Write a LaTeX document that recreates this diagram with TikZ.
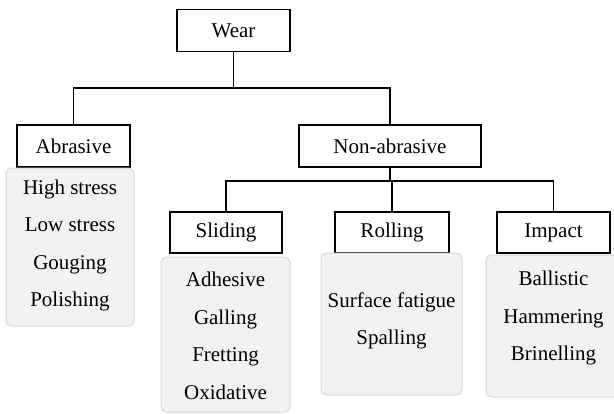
\documentclass[tikz,border=0pt]{standalone}
\usepackage{fontspec}
\setmainfont{Liberation Serif}
\begin{document}
\begin{tikzpicture}[x=1pt,y=-1pt,
  catbox/.style={draw=black,line width=1.3pt,fill=white,minimum height=42pt,inner sep=0pt,font=\fontsize{21}{24}\selectfont},
  panel/.style={draw=black!15,line width=1pt,fill=black!5,rounded corners=6pt,inner sep=0pt},
  items/.style={align=center,inner sep=0pt,font=\fontsize{21}{37.5}\selectfont},
  link/.style={line width=1.3pt}]
\useasboundingbox (0,0) rectangle (614,413);

% category boxes
\node[catbox,minimum width=113pt] (wear)   at (233.5,30.5) {Wear};
\node[catbox,minimum width=113pt] (abr)    at (73.5,146)   {Abrasive};
\node[catbox,minimum width=182pt] (nonabr) at (390,146)    {Non-abrasive};
\node[catbox,minimum width=112pt,minimum height=41pt] (slid) at (226,232.5) {Sliding};
\node[catbox,minimum width=114pt,minimum height=41pt] (roll) at (392,232.5) {Rolling};
\node[catbox,minimum width=113pt,minimum height=41pt] (imp)  at (553.5,232.5) {Impact};

% junctions of the tree
\coordinate (j1) at (233.5,88);
\coordinate (j2) at (390,181);

\draw[link] (wear) -- (j1);
\draw[link] (j1) -| (abr);
\draw[link] (j1) -| (nonabr);
\draw[link] (nonabr) -- (j2);
\draw[link] (j2) -| (slid);
\draw[link] (j2) -| (roll);
\draw[link] (j2) -| (imp);

% sub-type panels
\node[panel,minimum width=128pt,minimum height=158pt] (pabr)  at (70,247)    {};
\node[panel,minimum width=129pt,minimum height=155pt] (pslid) at (225.5,334.5) {};
\node[panel,minimum width=141pt,minimum height=142pt] (proll) at (391.5,324) {};
\node[panel,minimum width=134pt,minimum height=142pt] (pimp)  at (553,326)   {};

\node[items] (tabr)  at (70,245.5)  {High stress\\Low stress\\Gouging\\Polishing};
\node[items] (tslid) at (225.5,336) {Adhesive\\Galling\\Fretting\\Oxidative};
\node[items] (troll) at (391.5,321) {Surface fatigue\\Spalling};
\node[items] (timp)  at (553.5,318) {Ballistic\\Hammering\\Brinelling};
\end{tikzpicture}
\end{document}
